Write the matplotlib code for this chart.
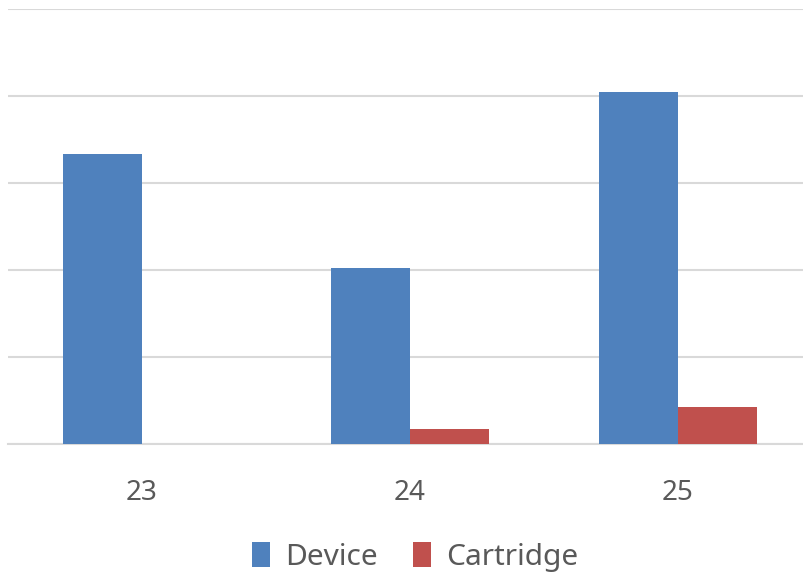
import matplotlib.pyplot as plt
import numpy as np

# данные
categories = ['23', '24', '25']
device = [3.33, 2.02, 4.05]
cartridge = [0.0, 0.17, 0.43]

plt.rcParams['font.family'] = ['Noto Sans', 'DejaVu Sans']

fig = plt.figure(figsize=(8.04, 5.75), dpi=100)
ax = fig.add_axes([8 / 804, 131 / 575, 796 / 804, 435 / 575])

x = np.arange(len(categories))
w = 0.295
ax.bar(x - w / 2, device, w, color='#4F81BD', label='Device', zorder=3)
ax.bar(x + w / 2, cartridge, w, color='#C0504D', label='Cartridge', zorder=3)

ax.set_xlim(-0.5, -0.5 + 796 / 268)
ax.set_ylim(0, 5)
ax.set_yticks(np.arange(0, 6, 1))
ax.yaxis.grid(True, color='#d9d9d9', linewidth=1.5, zorder=0)
ax.tick_params(axis='y', left=False, labelleft=False)
ax.tick_params(axis='x', bottom=False, labelsize=20, labelcolor='#595959', pad=22)
ax.set_xticks(x)
ax.set_xticklabels(categories)
for s in ['top', 'right', 'left']:
    ax.spines[s].set_visible(False)
ax.spines['bottom'].set_color('#d9d9d9')
ax.spines['bottom'].set_linewidth(1.5)

fig.legend(loc='center', bbox_to_anchor=(415 / 804, 1 - 557 / 575), ncol=2,
           frameon=False, fontsize=21.5, labelcolor='#595959',
           handlelength=0.6, handleheight=0.9, handletextpad=0.5, columnspacing=1.2)

plt.savefig('out.png', dpi=100)
